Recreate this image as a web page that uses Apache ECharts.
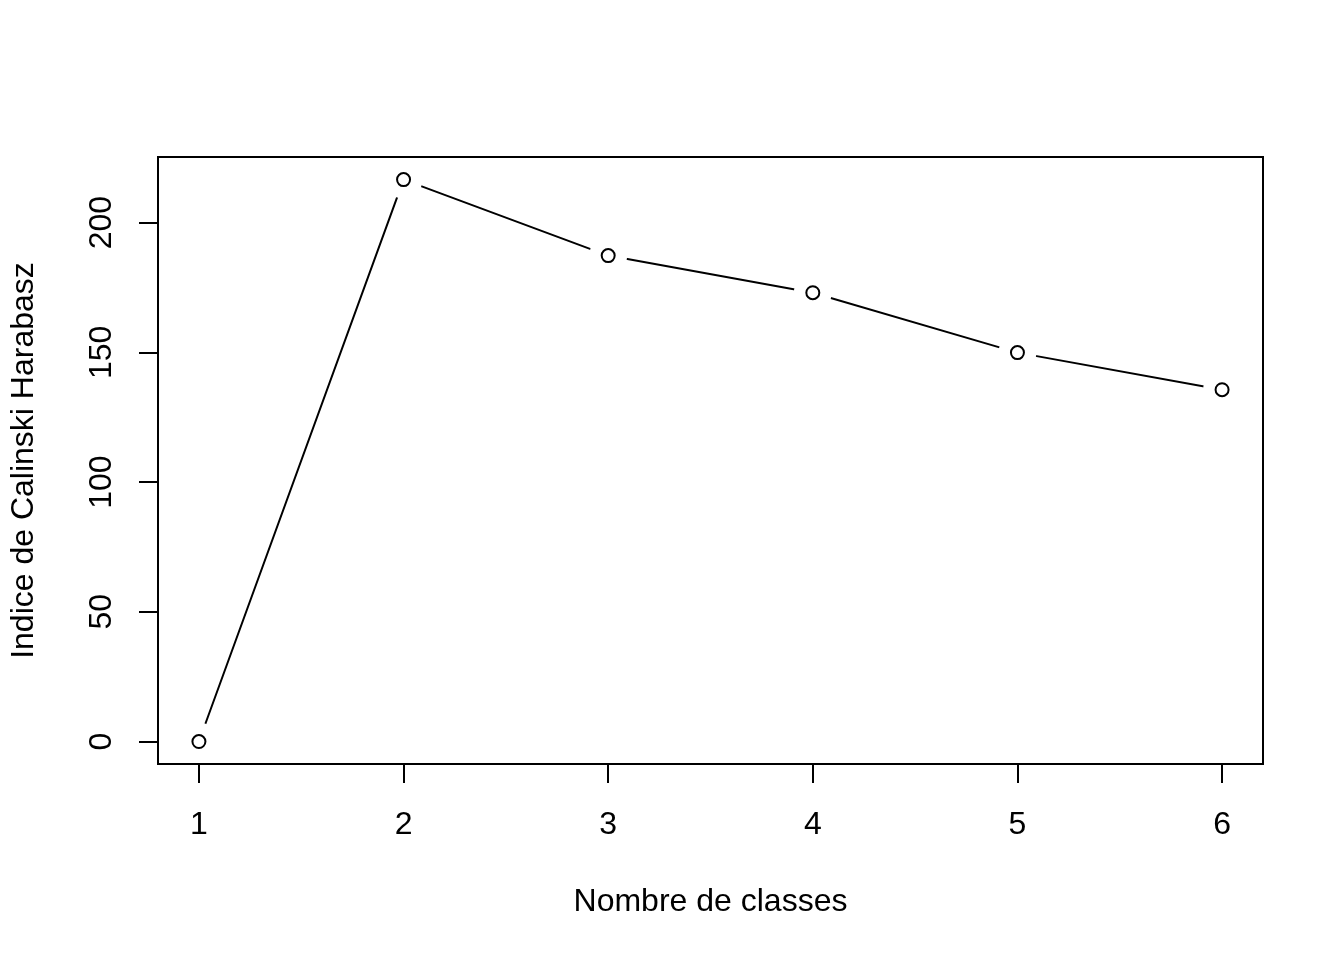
<!DOCTYPE html>
<html>
<head>
<meta charset="utf-8">
<script src="https://cdn.jsdelivr.net/npm/echarts@6/dist/echarts.min.js"></script>
<style>
  html, body { margin: 0; padding: 0; background: #fff; }
  #chart { width: 1344px; height: 960px; }
</style>
</head>
<body>
<div id="chart"></div>
<script>
const classes = [1, 2, 3, 4, 5, 6];
const chIndex = [0, 216.6, 187.3, 173.0, 149.9, 135.6];
const yTicks = [0, 50, 100, 150, 200];

const points = classes.map((c, i) => [c, chIndex[i]]);
const font = "Liberation Sans, Arial, sans-serif";

let chart = echarts.init(document.getElementById("chart"));
let option = {
  animation: false,
  backgroundColor: "#fff",
  grid: {
    show: true,
    left: 157,
    right: 81,
    top: 157,
    bottom: 196,
    borderColor: "#000",
    borderWidth: 2,
    backgroundColor: "transparent",
  },
  xAxis: {
    type: "value",
    min: 0.8,
    max: 6.2,
    name: "Nombre de classes",
    nameLocation: "middle",
    nameGap: 122,
    nameTextStyle: { color: "#000", fontSize: 32, fontFamily: font },
    axisLine: { show: false, onZero: false },
    splitLine: { show: false },
    axisTick: {
      show: true,
      length: 19,
      customValues: classes,
      lineStyle: { color: "#000", width: 2 },
    },
    axisLabel: {
      customValues: classes,
      margin: 45,
      color: "#000",
      fontSize: 32,
      fontFamily: font,
    },
  },
  yAxis: {
    type: "value",
    min: -8.66,
    max: 225.3,
    name: "Indice de Calinski Harabasz",
    nameLocation: "middle",
    nameGap: 118,
    nameTextStyle: { color: "#000", fontSize: 32, fontFamily: font },
    axisLine: { show: false, onZero: false },
    splitLine: { show: false },
    axisTick: {
      show: true,
      length: 19,
      customValues: yTicks,
      lineStyle: { color: "#000", width: 2 },
    },
    axisLabel: {
      customValues: yTicks,
      rotate: 90,
      margin: 40,
      color: "#000",
      fontSize: 32,
      fontFamily: font,
    },
  },
  series: [
    {
      // line with white discs to leave gaps around the points (type = "b")
      type: "line",
      data: points,
      symbol: "circle",
      symbolSize: 38,
      showSymbol: true,
      lineStyle: { color: "#000", width: 2 },
      itemStyle: { color: "#fff", borderWidth: 0 },
      silent: true,
      z: 2,
    },
    {
      type: "scatter",
      data: points,
      symbol: "circle",
      symbolSize: 13,
      itemStyle: { color: "#fff", borderColor: "#000", borderWidth: 2, opacity: 1 },
      z: 3,
    },
  ],
};
chart.setOption(option);
</script>
</body>
</html>
